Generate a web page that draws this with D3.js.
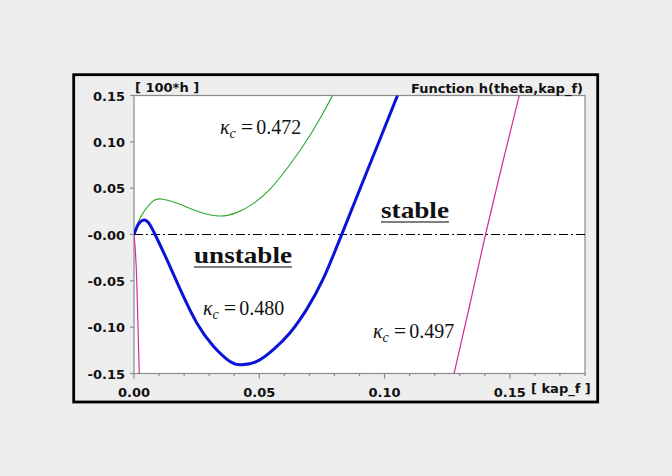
<!DOCTYPE html>
<html lang="en">
<head>
<meta charset="UTF-8">
<title>Function h(theta,kap_f)</title>
<script src="https://d3js.org/d3.v7.min.js"></script>
<style>
    body { margin: 0; background: #eeeeee; }
    svg { display: block; }
    .tick-label { font-family: "DejaVu Sans", sans-serif; font-size: 13px; font-weight: bold; fill: #111; }
    .kappa { font-family: "Liberation Serif", serif; font-size: 20px; fill: #111; }
    .region { font-family: "Liberation Serif", serif; font-size: 24px; font-weight: bold; fill: #111; }
</style>
</head>
<body>
<svg id="chart"></svg>
<script>
    const width = 672, height = 476;

    // tick values
    const xMajor = [0, 0.05, 0.10, 0.15];
    const xMinor = [0.01, 0.02, 0.03, 0.04, 0.06, 0.07, 0.08, 0.09, 0.11, 0.12, 0.13, 0.14, 0.16, 0.17, 0.18];
    const yTicks = [0.15, 0.10, 0.05, 0, -0.05, -0.10, -0.15];
    const yTickLabels = ["0.15", "0.10", "0.05", "-0.00", "-0.05", "-0.10", "-0.15"];
    const xTickLabels = ["0.00", "0.05", "0.10", "0.15"];

    // curves: [kap_f, 100*h]
    const curve472 = [[0, 0], [0.0015, 0.012], [0.0037, 0.0236], [0.0077, 0.0363], [0.0117, 0.038],
        [0.0184, 0.0326], [0.025, 0.0254], [0.0337, 0.020], [0.041, 0.0236], [0.0476, 0.0333],
        [0.0543, 0.049], [0.0609, 0.0707], [0.0676, 0.096], [0.0742, 0.125], [0.0793, 0.1504]];
    const curve480 = [[0, 0], [0.0017, 0.0109], [0.004, 0.0157], [0.006, 0.012], [0.0084, 0],
        [0.013, -0.0264], [0.0184, -0.059], [0.025, -0.0952], [0.0317, -0.1206], [0.0383, -0.137],
        [0.043, -0.1405], [0.049, -0.137], [0.0556, -0.1242], [0.0623, -0.106], [0.0689, -0.0808],
        [0.0755, -0.048], [0.0829, 0], [0.0905, 0.0512], [0.0978, 0.1004], [0.1052, 0.1504]];
    const curve497a = [[0, 0], [0.0011, -0.05], [0.0016, -0.10], [0.0021, -0.1504]];
    const curve497b = [[0.1277, -0.1504], [0.1341, -0.075], [0.1403, 0], [0.1469, 0.075], [0.1538, 0.1504]];

    const svg = d3.select("#chart").attr("width", width).attr("height", height);

    const x = d3.scaleLinear().domain([0, 0.18]).range([134, 585]);
    const y = d3.scaleLinear().domain([-0.15, 0.15]).range([373.5, 95.5]);

    // outer frame
    svg.append("rect")
        .attr("x", 73.7).attr("y", 74.7).attr("width", 524).attr("height", 327.3)
        .attr("fill", "#eeeeee").attr("stroke", "#000").attr("stroke-width", 2.8);

    // plot area
    svg.append("rect")
        .attr("x", x(0)).attr("y", y(0.15))
        .attr("width", x(0.18) - x(0)).attr("height", y(-0.15) - y(0.15))
        .attr("fill", "#fff").attr("stroke", "#8a8a8a").attr("stroke-width", 1.2);

    svg.append("clipPath").attr("id", "clip")
        .append("rect")
        .attr("x", x(0)).attr("y", y(0.15))
        .attr("width", x(0.18) - x(0)).attr("height", y(-0.15) - y(0.15));

    // ticks
    const axisColor = "#8a8a8a";
    svg.selectAll(".xmajor").data(xMajor).enter().append("line")
        .attr("x1", d => x(d)).attr("x2", d => x(d))
        .attr("y1", y(-0.15)).attr("y2", y(-0.15) + 5)
        .attr("stroke", axisColor).attr("stroke-width", 1.2);
    svg.selectAll(".xminor").data(xMinor).enter().append("line")
        .attr("x1", d => x(d)).attr("x2", d => x(d))
        .attr("y1", y(-0.15)).attr("y2", y(-0.15) + 2.5)
        .attr("stroke", axisColor).attr("stroke-width", 1.2);
    svg.selectAll(".ytick").data(yTicks).enter().append("line")
        .attr("x1", x(0) - 4).attr("x2", x(0))
        .attr("y1", d => y(d)).attr("y2", d => y(d))
        .attr("stroke", axisColor).attr("stroke-width", 1.2);

    // tick labels
    svg.selectAll(".ylab").data(yTicks).enter().append("text")
        .attr("class", "tick-label")
        .attr("x", x(0) - 9).attr("y", d => y(d) + 5)
        .attr("text-anchor", "end")
        .text((d, i) => yTickLabels[i]);
    svg.selectAll(".xlab").data(xMajor).enter().append("text")
        .attr("class", "tick-label")
        .attr("x", d => x(d)).attr("y", 397)
        .attr("text-anchor", "middle")
        .text((d, i) => xTickLabels[i]);

    svg.append("text").attr("class", "tick-label")
        .attr("x", 531).attr("y", 393).text("[ kap_f ]");
    svg.append("text").attr("class", "tick-label")
        .attr("x", 135).attr("y", 92).text("[ 100*h ]");
    svg.append("text").attr("class", "tick-label")
        .attr("x", 583).attr("y", 93).attr("text-anchor", "end")
        .text("Function h(theta,kap_f)");

    // zero line
    svg.append("line")
        .attr("x1", x(0)).attr("x2", x(0.18))
        .attr("y1", y(0)).attr("y2", y(0))
        .attr("stroke", "#000").attr("stroke-width", 1)
        .attr("stroke-dasharray", "9,3,2,3");

    const smooth = d3.line().x(d => x(d[0])).y(d => y(d[1])).curve(d3.curveNatural);
    const line = d3.line().x(d => x(d[0])).y(d => y(d[1])).curve(d3.curveMonotoneX);
    const g = svg.append("g").attr("clip-path", "url(#clip)");

    g.append("path").datum(curve472).attr("d", smooth)
        .attr("fill", "none").attr("stroke", "#2ea82e").attr("stroke-width", 1.1);
    g.append("path").datum(curve497a).attr("d", line)
        .attr("fill", "none").attr("stroke", "#d42a96").attr("stroke-width", 1.2);
    g.append("path").datum(curve497b).attr("d", line)
        .attr("fill", "none").attr("stroke", "#d42a96").attr("stroke-width", 1.2);
    g.append("path").datum(curve480).attr("d", smooth)
        .attr("fill", "none").attr("stroke", "#0a14d8").attr("stroke-width", 3);

    // kappa labels
    function kappa(px, py, value) {
        const t = svg.append("text").attr("class", "kappa").attr("x", px).attr("y", py);
        t.append("tspan").attr("font-style", "italic").text("κ");
        t.append("tspan").attr("font-style", "italic").attr("font-size", "14px").attr("dy", 4).text("c");
        t.append("tspan").attr("dy", -4).attr("dx", 5).attr("font-size", "22px").text("=");
        t.append("tspan").attr("dx", 3).text(value);
    }
    kappa(220, 134, "0.472");
    kappa(203, 315, "0.480");
    kappa(373, 338, "0.497");

    // region labels with underline
    function region(px, py, w, label) {
        svg.append("text").attr("class", "region")
            .attr("x", px).attr("y", py)
            .attr("textLength", w).attr("lengthAdjust", "spacingAndGlyphs")
            .text(label);
        svg.append("line")
            .attr("x1", px).attr("x2", px + w)
            .attr("y1", py + 4).attr("y2", py + 4)
            .attr("stroke", "#555").attr("stroke-width", 1.5);
    }
    region(381, 218, 68, "stable");
    region(194, 263, 98, "unstable");
</script>
</body>
</html>
